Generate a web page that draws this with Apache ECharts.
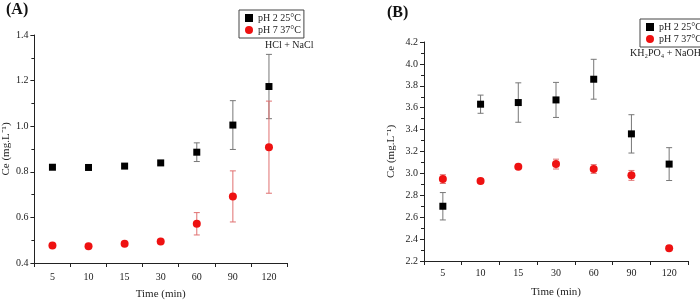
<!DOCTYPE html>
<html>
<head>
<meta charset="utf-8">
<script src="https://cdn.jsdelivr.net/npm/echarts@6/dist/echarts.min.js"></script>
<style>
  html, body { margin: 0; padding: 0; background: #fff; }
  #main { width: 700px; height: 305px; }
</style>
</head>
<body>
<div id="main"></div>
<script>
// time points (min) shared by both panels
var times = ['5', '10', '15', '30', '60', '90', '120'];

// panel A: HCl + NaCl
var aPh2 = [0.820, 0.819, 0.825, 0.839, 0.886, 1.005, 1.174];
var aPh2Err = [0.006, 0.006, 0.005, 0.008, 0.041, 0.107, 0.141];
var aPh7 = [0.477, 0.474, 0.484, 0.494, 0.572, 0.692, 0.908];
var aPh7Err = [0.004, 0.004, 0.005, 0.005, 0.049, 0.112, 0.202];

// panel B: KH2PO4 + NaOH
var bPh2 = [2.700, 3.632, 3.647, 3.671, 3.860, 3.361, 3.085];
var bPh2Err = [0.125, 0.083, 0.180, 0.160, 0.182, 0.175, 0.150];
var bPh7 = [2.948, 2.930, 3.060, 3.085, 3.040, 2.982, 2.316];
var bPh7Err = [0.040, 0.020, 0.010, 0.045, 0.040, 0.045, 0.020];

var FONT = 'Liberation Serif';

function errData(vals, errs) {
    return vals.map(function (v, i) { return [i, v - errs[i], v + errs[i]]; });
}

function errSeries(vals, errs, color, idx) {
    return {
        type: 'custom',
        xAxisIndex: idx,
        yAxisIndex: idx,
        z: 1,
        silent: true,
        data: errData(vals, errs),
        renderItem: function (params, api) {
            var lo = api.coord([api.value(0), api.value(1)]);
            var hi = api.coord([api.value(0), api.value(2)]);
            var w = 3;
            var st = { stroke: color, lineWidth: 1 };
            return {
                type: 'group',
                children: [
                    { type: 'line', shape: { x1: lo[0], y1: lo[1], x2: hi[0], y2: hi[1] }, style: st },
                    { type: 'line', shape: { x1: lo[0] - w, y1: lo[1], x2: lo[0] + w, y2: lo[1] }, style: st },
                    { type: 'line', shape: { x1: hi[0] - w, y1: hi[1], x2: hi[0] + w, y2: hi[1] }, style: st }
                ]
            };
        }
    };
}

function xAx(idx, margin) {
    return {
        type: 'category',
        gridIndex: idx,
        data: times,
        name: 'Time (min)',
        nameLocation: 'middle',
        nameGap: 26,
        nameTextStyle: { fontFamily: FONT, fontSize: 11, color: '#222' },
        axisLine: { lineStyle: { color: '#222', width: 1 } },
        axisTick: { show: true, length: 4, lineStyle: { color: '#222' } },
        axisLabel: { fontFamily: FONT, fontSize: 10, color: '#222', margin: margin },
        splitLine: { show: false }
    };
}

function yAx(idx, min, max, gap) {
    return {
        type: 'value',
        gridIndex: idx,
        min: min,
        max: max,
        interval: 0.2,
        name: 'Ce (mg.L\u207B\u00B9)',
        nameLocation: 'middle',
        nameGap: gap,
        nameRotate: 90,
        nameTextStyle: { fontFamily: FONT, fontSize: 11, color: '#222' },
        axisLine: { show: true, lineStyle: { color: '#222', width: 1 } },
        axisTick: { show: true, length: 4, lineStyle: { color: '#222' } },
        minorTick: { show: true, splitNumber: 2, length: 3, lineStyle: { color: '#222' } },
        axisLabel: {
            fontFamily: FONT, fontSize: 10, color: '#222', margin: 6,
            formatter: function (v) { return v.toFixed(1); }
        },
        splitLine: { show: false }
    };
}

function dots(name, vals, idx, symbol, color) {
    return {
        name: name,
        type: 'scatter',
        xAxisIndex: idx,
        yAxisIndex: idx,
        z: 3,
        symbol: symbol,
        symbolSize: symbol === 'rect' ? 7 : 8,
        itemStyle: { color: color, opacity: 1 },
        data: vals
    };
}

function legendAt(idx, left, top) {
    return {
        show: true,
        orient: 'vertical',
        left: left,
        top: top,
        padding: [3, 3, 3, 6],
        itemGap: 2,
        itemWidth: 8,
        itemHeight: 8,
        borderColor: '#444',
        borderWidth: 1,
        textStyle: { fontFamily: FONT, fontSize: 10, color: '#222' },
        data: [
            { name: idx === 0 ? 'pH 2 25°C' : 'pH 2 25°C ', icon: 'rect' },
            { name: idx === 0 ? 'pH 7 37°C' : 'pH 7 37°C ', icon: 'circle' }
        ]
    };
}

var chart = echarts.init(document.getElementById('main'));

var option = {
    animation: false,
    backgroundColor: '#fff',
    grid: [
        { left: 32, top: 35, width: 255, height: 233 },
        { left: 424, top: 42, width: 264, height: 219 }
    ],
    xAxis: [xAx(0, 9), xAx(1, 7)],
    yAxis: [yAx(0, 0.4, 1.4, 22), yAx(1, 2.2, 4.2, 27)],
    legend: [legendAt(0, 239, 10), legendAt(1, 640, 19)],
    graphic: [
        { type: 'text', left: 6, top: 2, style: { text: '(A)', fontFamily: FONT, fontSize: 16, fontWeight: 'bold', fill: '#111' } },
        { type: 'text', left: 387, top: 5, style: { text: '(B)', fontFamily: FONT, fontSize: 16, fontWeight: 'bold', fill: '#111' } },
        { type: 'text', left: 265, top: 40, style: { text: 'HCl + NaCl', fontFamily: FONT, fontSize: 10, fill: '#222' } },
        { type: 'text', left: 630, top: 48, style: { text: 'KH\u2082PO\u2084 + NaOH', fontFamily: FONT, fontSize: 10, fill: '#222' } }
    ],
    series: [
        errSeries(aPh2, aPh2Err, '#777', 0),
        errSeries(aPh7, aPh7Err, '#e07070', 0),
        dots('pH 2 25°C', aPh2, 0, 'rect', '#000'),
        dots('pH 7 37°C', aPh7, 0, 'circle', '#ee1111'),
        errSeries(bPh2, bPh2Err, '#777', 1),
        errSeries(bPh7, bPh7Err, '#e07070', 1),
        dots('pH 2 25°C ', bPh2, 1, 'rect', '#000'),
        dots('pH 7 37°C ', bPh7, 1, 'circle', '#ee1111')
    ]
};

chart.setOption(option);
</script>
</body>
</html>
